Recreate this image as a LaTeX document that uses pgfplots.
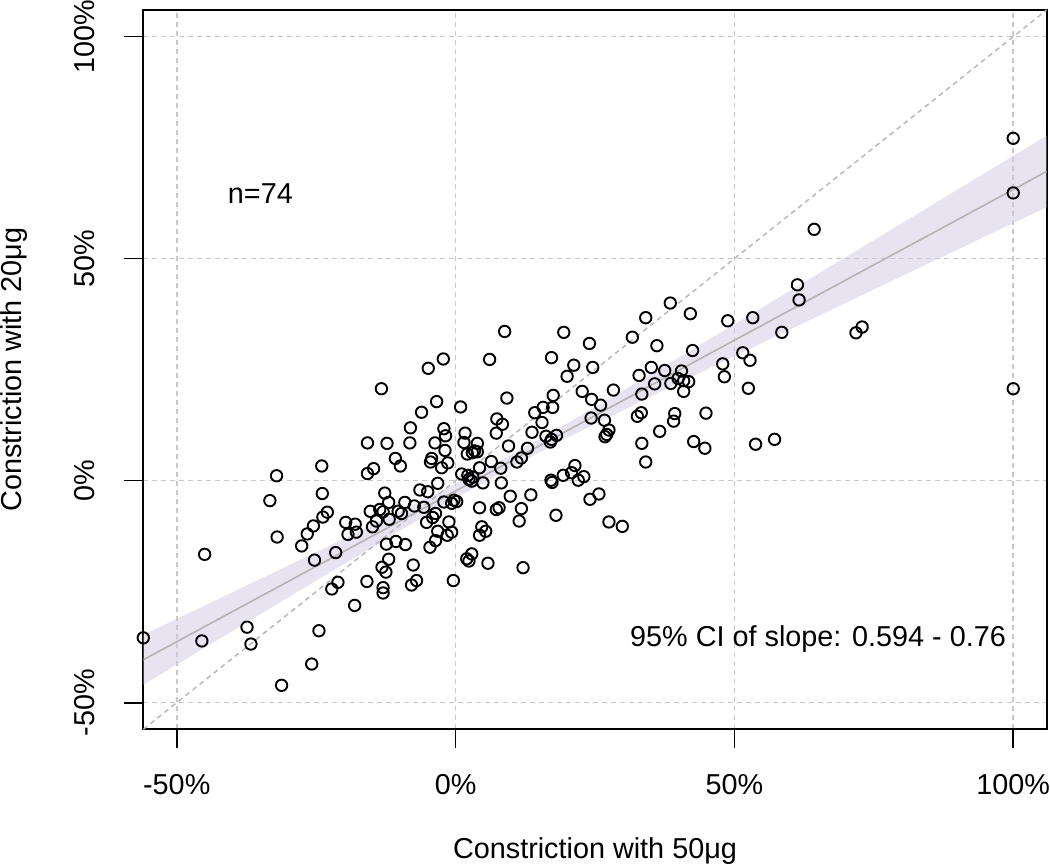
\documentclass[border=0pt]{standalone}
\usepackage{fontspec}
\setmainfont{Liberation Sans}
\usepackage{pgfplots}
\pgfplotsset{compat=1.18}
\definecolor{bandcol}{RGB}{207,199,225}
\definecolor{gridcol}{RGB}{200,200,200}
\definecolor{diagcol}{RGB}{185,185,185}
\definecolor{fitcol}{RGB}{180,180,180}
\newcommand{\fs}{\fontsize{14.4}{17}\selectfont}
\begin{document}
\begin{tikzpicture}
\begin{axis}[
  at={(0,0)}, anchor=south west,
  scale only axis, width=451.7pt, height=359.65pt,
  xmin=-56, xmax=106, ymin=-56, ymax=106,
  xtick={-50,0,50,100}, ytick={-50,0,50,100},
  xticklabels={-50\%,0\%,50\%,100\%},
  yticklabels={-50\%,0\%,50\%,100\%},
  xtick pos=left, ytick pos=left,
  tick align=outside, major tick length=9.5pt,
  every tick/.style={black, line width=0.85pt},
  axis line style={line width=0.85pt},
  grid=major,
  major grid style={gridcol, line width=0.75pt, dash pattern=on 2.5pt off 2pt},
  tick label style={font=\fs},
  xticklabel style={anchor=north, inner sep=0pt, yshift=-13pt},
  yticklabel style={rotate=90, anchor=south, inner sep=0pt, yshift=14.5pt},
  label style={font=\fs},
  xlabel={Constriction with 50μg},
  ylabel={Constriction with 20μg},
  xlabel style={at={(axis description cs:0.5,-0.1803)}, anchor=base, inner sep=0pt},
  ylabel style={at={(axis description cs:-0.1346,0.5)}, anchor=base, inner sep=0pt},
]
% confidence band
\addplot[draw=none, mark=none, fill=bandcol, fill opacity=0.5] coordinates {
(-56,-34.72) (-40,-25.13) (-25,-16.10) (-10,-6.95) (0,-0.70) (10,5.86) (20,12.88)
(35,23.94) (50,35.21) (65,46.57) (80,57.94) (95,69.34) (106,77.69)
(106,61.59) (95,55.02) (80,46.04) (65,37.05) (50,28.03) (35,18.94) (20,9.62)
(10,3.06) (0,-3.96) (-10,-11.29) (-25,-22.52) (-40,-33.85) (-56,-45.98)
} -- cycle;
% identity line
\addplot[diagcol, mark=none, line width=0.75pt, dash pattern=on 2.5pt off 2pt] coordinates {(-56,-56) (106,106)};
% fitted line
\addplot[fitcol, mark=none, line width=0.8pt] coordinates {(-56,-40.35) (106,69.64)};
% points
\addplot[only marks, mark=o, mark size=2.85pt, black, line width=0.95pt] coordinates {
(-56.0,-35.4) (-45.0,-16.6) (-45.5,-36.1) (-37.4,-33.0) (-36.7,-36.8) (-31.2,-46.1)
(-25.8,-41.3) (-24.5,-33.8) (-18.1,-28.1) (-22.2,-24.4) (-21.1,-22.9) (-15.9,-22.7)
(-25.3,-17.9) (-21.5,-16.2) (-27.6,-14.7) (-26.6,-12.0) (-25.5,-10.2) (-23.8,-8.2)
(-23.0,-7.1) (-23.9,-2.9) (-24.0,3.3) (-32.1,1.1) (-33.3,-4.5) (-32.0,-12.7)
(-19.7,-9.4) (-18.0,-9.8) (-17.8,-11.6) (-19.3,-12.1)
(8.8,33.6) (-2.2,27.4) (-4.9,25.3) (6.1,27.3) (-13.3,20.7) (9.2,18.6) (-3.4,17.8)
(0.9,16.6) (-6.1,15.4) (-8.1,11.9) (-2.1,11.7) (-1.8,10.1) (7.4,13.9) (8.4,12.7)
(7.3,10.7) (1.7,10.7) (13.7,10.9) (14.2,15.3) (-15.8,8.5) (-12.3,8.4) (-8.2,8.5)
(-3.7,8.5) (1.5,8.6) (-1.9,6.8) (3.9,8.4) (9.5,7.8) (12.9,7.3) (3.4,6.7) (3.0,6.3)
(3.9,6.5) (2.1,6.0) (-10.8,5.0) (-9.9,3.3) (-4.3,5.0) (-4.5,4.2) (-1.4,4.0)
(-2.5,2.9) (6.4,4.3) (4.3,2.9) (8.1,2.8) (11.0,4.2) (11.8,5.1) (-14.7,2.7)
(-15.8,1.6) (1.1,1.5) (2.2,1.2) (3.1,0.8) (2.4,0.3) (2.9,-0.1) (4.9,-0.5) (8.2,-0.5)
(-3.2,-0.6) (-6.4,-2.1) (-5.0,-2.5) (-12.7,-2.8) (9.8,-3.5) (13.5,-3.2) (-0.3,-4.4)
(0.2,-4.7) (-0.7,-5.1) (-2.1,-4.8) (-12.0,-4.9) (-9.1,-4.9) (-7.4,-5.7) (-5.7,-6.0)
(4.3,-6.1) (7.3,-6.5) (7.8,-6.1) (11.8,-6.3) (-15.3,-6.9) (-13.6,-6.5) (-13.0,-7.0)
(-10.3,-6.9) (-9.7,-7.4) (-3.6,-7.4) (-4.1,-8.3) (-5.2,-9.4) (-1.2,-9.3) (11.4,-9.1)
(-14.2,-9.1) (-11.9,-8.7) (-14.9,-10.4) (4.7,-10.4) (5.4,-11.4) (4.3,-12.3)
(-3.2,-11.4) (-1.5,-12.3) (-0.7,-11.6) (-3.6,-13.5) (-4.6,-15.0) (-10.7,-13.7)
(-12.4,-14.3) (-9.0,-14.4) (2.9,-16.5) (2.0,-17.6) (2.4,-18.1) (5.8,-18.6)
(12.1,-19.6) (-12.0,-17.7) (-13.2,-19.5) (-12.5,-20.6) (-7.6,-19.0) (-7.0,-22.5)
(-7.9,-23.5) (-0.4,-22.5) (-13.0,-24.1) (-13.0,-25.3)
(38.5,40.0) (34.1,36.7) (42.1,37.6) (19.4,33.4) (24.0,30.9) (31.7,32.3) (36.1,30.4)
(42.5,29.3) (17.2,27.7) (21.2,26.0) (24.6,25.5) (20.0,23.5) (32.9,23.7) (35.1,25.5)
(37.5,24.8) (40.5,24.7) (39.9,23.0) (40.9,22.5) (41.8,22.3) (38.6,21.9) (40.9,20.1)
(35.7,21.8) (28.3,20.4) (33.4,19.5) (22.7,20.1) (24.4,18.3) (26.0,17.0) (17.5,19.2)
(17.4,16.5) (15.7,16.5) (15.5,13.1) (16.2,10.0) (17.2,9.3) (18.1,10.2) (17.0,8.7)
(24.3,14.1) (26.7,13.6) (27.5,11.4) (27.1,10.4) (26.8,9.9) (33.3,15.3) (32.6,14.5)
(39.3,15.1) (39.1,13.4) (36.6,11.1) (33.4,8.4) (34.1,4.2) (42.7,8.8) (21.4,3.4)
(20.8,1.8) (19.3,1.2) (23.0,0.9) (17.1,0.1) (17.3,-0.4) (22.0,0.1) (24.1,-4.2)
(25.7,-3.0) (18.0,-7.8) (27.5,-9.3) (29.9,-10.3)
(64.3,56.6) (61.3,44.1) (61.6,40.7) (53.3,36.7) (48.8,36.0) (58.5,33.4) (71.8,33.3)
(72.9,34.6) (51.5,28.8) (52.8,27.1) (47.9,26.3) (48.2,23.4) (52.5,20.8) (44.9,15.2)
(44.7,7.3) (53.8,8.2) (57.2,9.3) (100,77.1) (100,64.8) (100,20.7)
};
\node[anchor=base, inner sep=0pt, font=\fs] at (axis cs:-35,62.4) {n=74};
\node[anchor=base, inner sep=0pt, font=\fs] at (axis cs:65,-37.4) {95\% CI of slope: 0.594 - 0.76};
\end{axis}
\pgfresetboundingbox
\path[use as bounding box] (-71.65pt,-68.35pt) rectangle (453.35pt,364.65pt);
\end{tikzpicture}
\end{document}
